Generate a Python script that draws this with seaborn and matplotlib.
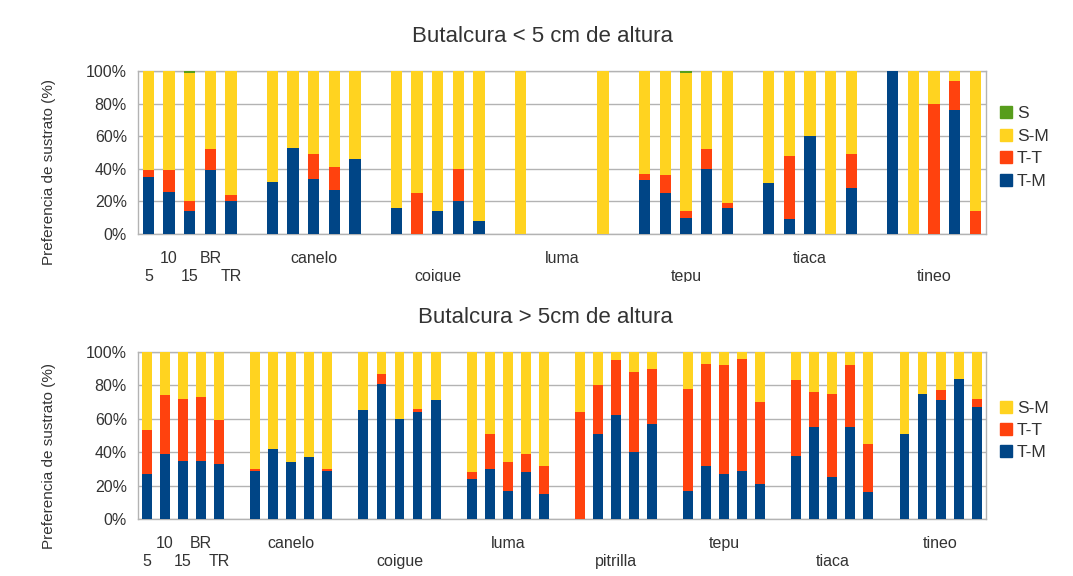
import numpy as np
import pandas as pd
import matplotlib
matplotlib.use("Agg")
import matplotlib.pyplot as plt
from matplotlib.patches import Rectangle
from matplotlib.lines import Line2D
import seaborn as sns

# --- data (percent per bar) ---
bar_names = ["5", "10", "15", "BR", "TR"]

groups_small = ["", "canelo", "coigue", "luma", "tepu", "tiaca", "tineo"]
tm_small = [[35, 26, 14, 39, 20], [32, 53, 34, 27, 46], [16, 0, 14, 20, 8],
            [0, 0, 0, 0, 0], [33, 25, 10, 40, 16], [31, 9, 60, 0, 28],
            [100, 0, 0, 76, 0]]
tt_small = [[4, 13, 6, 13, 4], [0, 0, 15, 14, 0], [0, 25, 0, 20, 0],
            [0, 0, 0, 0, 0], [4, 11, 4, 12, 3], [0, 39, 0, 0, 21],
            [0, 0, 80, 18, 14]]
sm_small = [[61, 61, 79, 48, 76], [68, 47, 51, 59, 54], [84, 75, 86, 60, 92],
            [100, 0, 0, 0, 100], [63, 64, 85, 48, 81], [69, 52, 40, 100, 51],
            [0, 100, 20, 6, 86]]
s_small = [[0, 0, 1, 0, 0], [0, 0, 0, 0, 0], [0, 0, 0, 0, 0],
           [0, 0, 0, 0, 0], [0, 0, 1, 0, 0], [0, 0, 0, 0, 0],
           [0, 0, 0, 0, 0]]

groups_big = ["", "canelo", "coigue", "luma", "pitrilla", "tepu", "tiaca", "tineo"]
tm_big = [[27, 39, 35, 35, 33], [29, 42, 34, 37, 29], [65, 81, 60, 64, 71],
          [24, 30, 17, 28, 15], [0, 51, 62, 40, 57], [17, 32, 27, 29, 21],
          [38, 55, 25, 55, 16], [51, 75, 71, 84, 67]]
tt_big = [[26, 35, 37, 38, 26], [1, 0, 0, 0, 1], [0, 6, 0, 2, 0],
          [4, 21, 17, 11, 17], [64, 29, 33, 48, 33], [61, 61, 65, 67, 49],
          [45, 21, 50, 37, 29], [0, 0, 6, 0, 5]]
sm_big = [[47, 26, 28, 27, 41], [70, 58, 66, 63, 70], [35, 13, 40, 34, 29],
          [72, 49, 66, 61, 68], [36, 20, 5, 12, 10], [22, 7, 8, 4, 30],
          [17, 24, 25, 8, 55], [49, 25, 23, 16, 28]]

colors = {"S": "#579d1c", "S-M": "#ffd320", "T-T": "#ff420e", "T-M": "#004586"}
grey = "#b3b3b3"
txt = "#333333"


def build(groups, tm, tt, sm, s):
    rows = []
    order = []
    labels = []
    for gi, g in enumerate(groups):
        if gi > 0:
            order.append(f"gap{gi}")
            labels.append("")
        for bi in range(5):
            key = f"{gi}|{bi}"
            order.append(key)
            rows.append({"pos": key, "T-M": tm[gi][bi], "T-T": tt[gi][bi],
                         "S-M": sm[gi][bi], "S": s[gi][bi]})
            if gi == 0:
                labels.append(bar_names[bi])
            elif bi == 2:
                labels.append(g)
            else:
                labels.append("")
    return pd.DataFrame(rows), order, labels


def draw(ax, df, order, labels, series):
    # stacked bars drawn as cumulative heights, tallest layer first
    stack = ["T-M", "T-T", "S-M", "S"]
    df = df.copy()
    cum = 0
    for name in stack:
        cum = cum + df[name]
        df["cum_" + name] = cum
    for name in reversed(stack):
        if name not in series:
            continue
        sns.barplot(data=df, x="pos", y="cum_" + name, order=order, ax=ax,
                    color=colors[name], saturation=1, width=0.55,
                    errorbar=None, linewidth=0, zorder=3)
    n = len(order)
    ax.set_xlim(-0.5, n - 0.5)
    ax.set_ylim(0, 100)
    ax.set_xticks(range(n))
    ax.set_xticklabels(labels, fontsize=11.5, color=txt)
    ax.set_xticks(np.arange(n + 1) - 0.5, minor=True)
    ax.tick_params(axis="x", which="major", length=0)
    ax.tick_params(axis="x", which="minor", length=6, color=grey, width=1)
    # staggered labels: every second label goes on the lower row
    k = 0
    for tick, lab in zip(ax.xaxis.get_major_ticks(), labels):
        if lab:
            tick.set_pad(25 if k % 2 == 0 else 12)
            k += 1
    ax.set_yticks(range(0, 101, 20))
    ax.set_yticklabels([f"{v}%" for v in range(0, 101, 20)], fontsize=11.5,
                       color=txt)
    ax.tick_params(axis="y", length=5, color=grey, width=1, pad=3)
    ax.yaxis.grid(True, color=grey, linewidth=1, zorder=0)
    ax.set_axisbelow(True)
    for sp in ax.spines.values():
        sp.set_color(grey)
        sp.set_linewidth(1)
    ax.set_xlabel("")
    ax.set_ylabel("Preferencia de sustrato (%)", fontsize=11, color=txt)
    ax.yaxis.set_label_coords(-0.097, 0.38)
    handles = [Line2D([], [], marker="s", linestyle="", markersize=8,
                      color=colors[name]) for name in reversed(stack)
               if name in series]
    names = [name for name in reversed(stack) if name in series]
    ax.legend(handles, names, loc="center left", bbox_to_anchor=(0.998, 0.53),
              frameon=False, fontsize=12.5, handlelength=0.7,
              handletextpad=0.3, labelspacing=0.42, labelcolor=txt)


sns.set_style("white")
plt.rcParams["font.family"] = ["Liberation Sans", "DejaVu Sans"]

fig = plt.figure(figsize=(10.73, 5.76), dpi=100)
ax1 = fig.add_axes([0.1286, 0.5938, 0.790, 0.283])
ax2 = fig.add_axes([0.1286, 0.0990, 0.790, 0.290])

df1, order1, labels1 = build(groups_small, tm_small, tt_small, sm_small, s_small)
draw(ax1, df1, order1, labels1, ["S", "S-M", "T-T", "T-M"])

df2, order2, labels2 = build(groups_big, tm_big, tt_big, sm_big,
                             [[0] * 5 for _ in groups_big])
draw(ax2, df2, order2, labels2, ["S-M", "T-T", "T-M"])

fig.text(0.506, 0.936, "Butalcura < 5 cm de altura", ha="center",
         va="center", fontsize=16, color=txt)
fig.text(0.508, 0.448, "Butalcura > 5cm de altura", ha="center",
         va="center", fontsize=16, color=txt)

# the upper picture is cut just under its lower label row
fig.patches.append(Rectangle((0, 0.486), 1, 0.025, transform=fig.transFigure,
                             facecolor="white", edgecolor="none", zorder=10))

fig.savefig("out.png", dpi=100)
